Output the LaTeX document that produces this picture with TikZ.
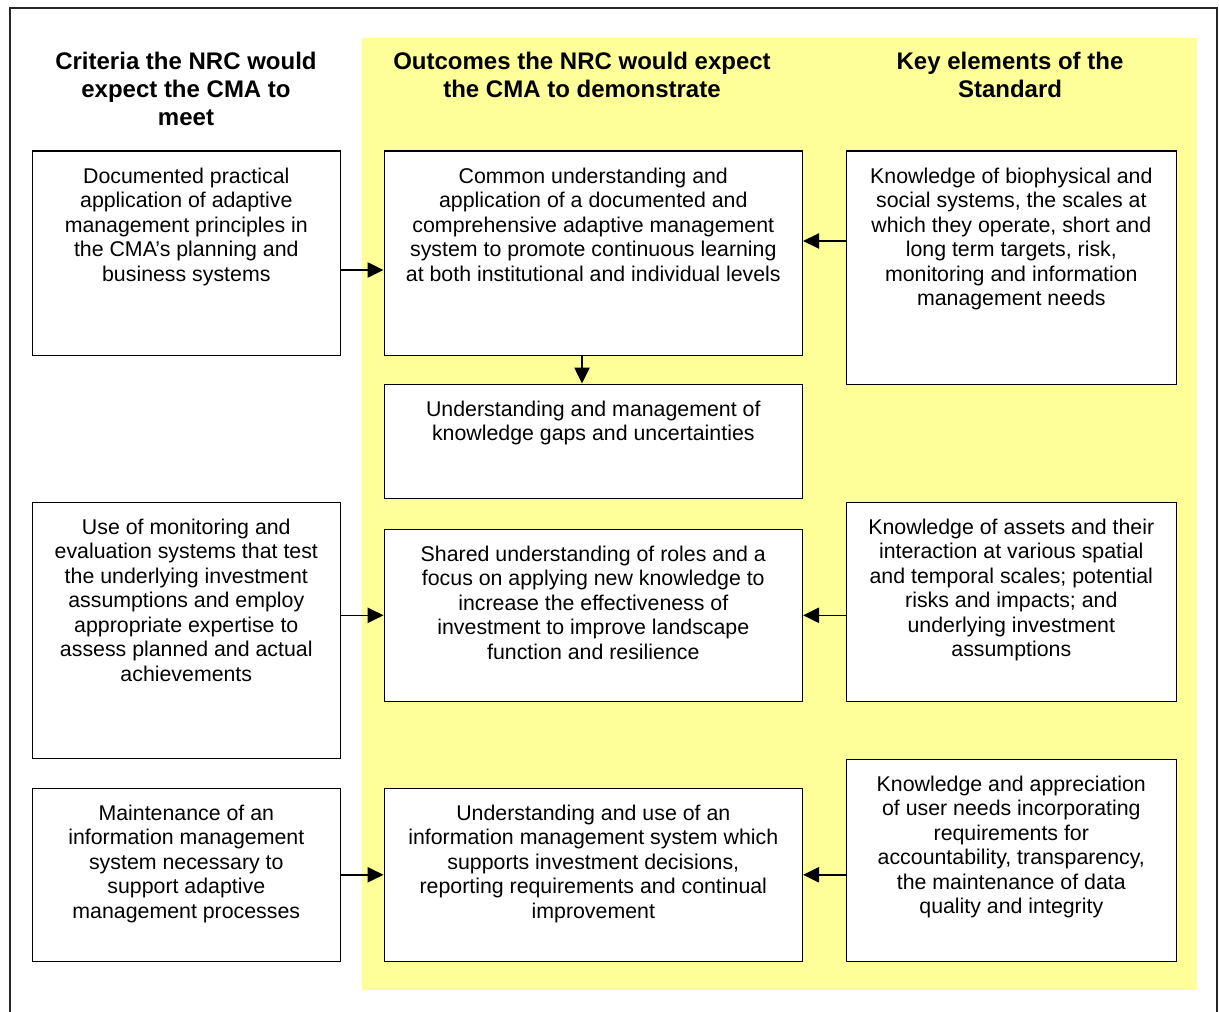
\documentclass[tikz,border=0pt]{standalone}
\usepackage{fontspec}
\setmainfont{Liberation Sans}
\usetikzlibrary{arrows.meta}
\definecolor{paleyellow}{RGB}{255,255,153}
\newcommand{\boxtext}[3]{\parbox[c][#2][t]{#1}{\vspace*{10.9pt}\centering\strut #3\par}}

\tikzset{every picture/.style={line width=0.75pt},
  cellbox/.style={draw, line width=1.2pt, fill=white, inner sep=0pt, anchor=north west, font=\fontsize{16}{18.4}\selectfont},
  headtext/.style={inner sep=0pt, anchor=north, align=center, font=\bfseries\fontsize{18}{20.7}\selectfont},
  link/.style={line width=1.1pt, -{Triangle[length=12pt,width=11.5pt]}}
}

\begin{document}
\begin{tikzpicture}[x=0.75pt,y=0.75pt,yscale=-1,xscale=1]
	\useasboundingbox (0,0) rectangle (1219,1012);

	%Shape: Rectangle [outer frame, open at the bottom]
	\draw [line width=1.5pt, black!85] (10,1012) -- (10,8) -- (1217,8) -- (1217,1012) ;
	%Shape: Rectangle [yellow band]
	\fill [paleyellow] (362,38) rectangle (1197,990) ;

	% Text Node
	\node [headtext] (headcrit) at (186,52) {Criteria the NRC would\\expect the CMA to\\meet};
	% Text Node
	\node [headtext] (headoutc) at (582,52) {Outcomes the NRC would expect\\the CMA to demonstrate};
	% Text Node
	\node [headtext] (headkey) at (1010,52) {Key elements of the\\Standard};

	%Shape: Rectangle [criteria column]
	\node [cellbox] (crit1) at (31.5,150.5) {\boxtext{231pt}{153pt}{Documented practical\\application of adaptive\\management principles in\\the CMA’s planning and\\business systems}};
	\node [cellbox] (crit2) at (31.5,501.5) {\boxtext{231pt}{192pt}{Use of monitoring and\\evaluation systems that test\\the underlying investment\\assumptions and employ\\appropriate expertise to\\assess planned and actual\\achievements}};
	\node [cellbox] (crit3) at (31.5,787.5) {\boxtext{231pt}{129.75pt}{Maintenance of an\\information management\\system necessary to\\support adaptive\\management processes}};

	%Shape: Rectangle [outcomes column]
	\node [cellbox] (outc1) at (383.5,150.5) {\boxtext{313.5pt}{153pt}{Common understanding and\\application of a documented and\\comprehensive adaptive management\\system to promote continuous learning\\at both institutional and individual levels}};
	\node [cellbox] (outc2) at (383.5,383.5) {\boxtext{313.5pt}{85.5pt}{Understanding and management of\\knowledge gaps and uncertainties}};
	\node [cellbox] (outc3) at (383.5,528.5) {\boxtext{313.5pt}{129pt}{Shared understanding of roles and a\\focus on applying new knowledge to\\increase the effectiveness of\\investment to improve landscape\\function and resilience}};
	\node [cellbox] (outc4) at (383.5,787.5) {\boxtext{313.5pt}{129.75pt}{Understanding and use of an\\information management system which\\supports investment decisions,\\reporting requirements and continual\\improvement}};

	%Shape: Rectangle [standard column]
	\node [cellbox] (key1) at (845.5,150.5) {\boxtext{247.5pt}{174.75pt}{Knowledge of biophysical and\\social systems, the scales at\\which they operate, short and\\long term targets, risk,\\monitoring and information\\management needs}};
	\node [cellbox] (key2) at (845.5,501.5) {\boxtext{247.5pt}{149.25pt}{Knowledge of assets and their\\interaction at various spatial\\and temporal scales; potential\\risks and impacts; and\\underlying investment\\assumptions}};
	\node [cellbox] (key3) at (845.5,758.5) {\boxtext{247.5pt}{151.5pt}{Knowledge and appreciation\\of user needs incorporating\\requirements for\\accountability, transparency,\\the maintenance of data\\quality and integrity}};

	% helper levels for the arrows
	\coordinate (lvlA) at (0,270);
	\coordinate (lvlB) at (0,241);
	\coordinate (colA) at (582,0);

	%Straight Lines
	\draw [link] (crit1.east |- lvlA) -- (outc1.west |- lvlA) ;
	\draw [link] (key1.west |- lvlB) -- (outc1.east |- lvlB) ;
	\draw [link] (outc1.south -| colA) -- (outc2.north -| colA) ;
	\draw [link] (crit2.east |- outc3.west) -- (outc3.west) ;
	\draw [link] (key2.west |- outc3.east) -- (outc3.east) ;
	\draw [link] (crit3.east) -- (outc4.west) ;
	\draw [link] (key3.west |- outc4.east) -- (outc4.east) ;

\end{tikzpicture}
\end{document}
